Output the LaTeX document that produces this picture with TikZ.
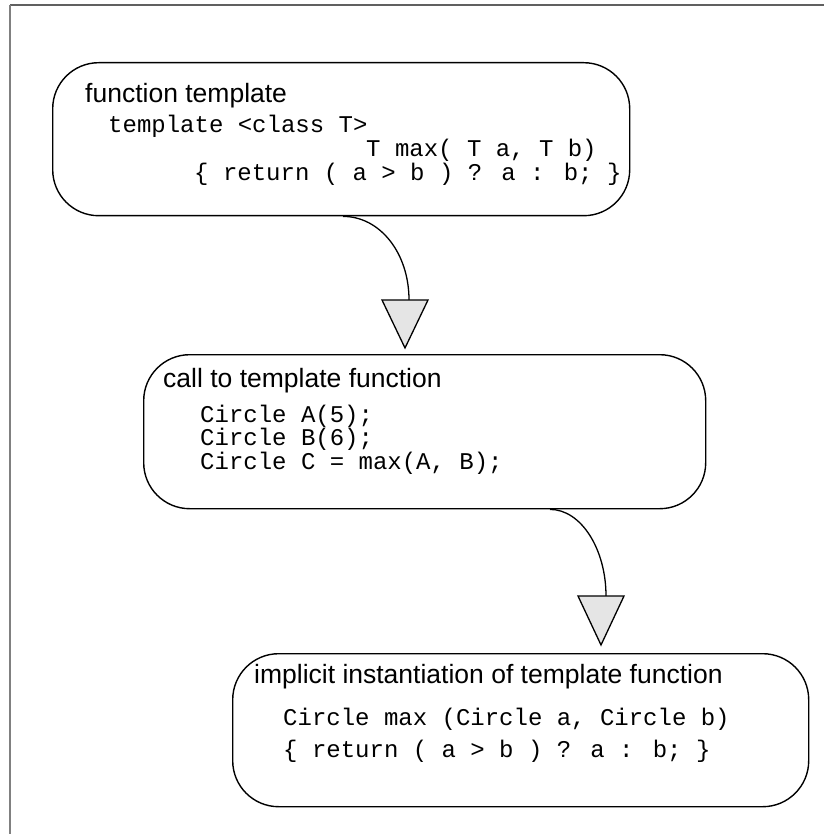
\documentclass[tikz,border=0pt]{standalone}
\usepackage{fontspec}
\setmainfont{Liberation Sans}
\newfontfamily\codefont{Liberation Mono}
\usetikzlibrary{calc}
\begin{document}
\begin{tikzpicture}[x=1pt,y=-1pt]
\tikzset{
  box/.style={draw, line width=1.4pt, rounded corners=46pt, inner sep=0pt, anchor=north west},
  caption/.style={inner sep=0pt, anchor=base west, font=\fontsize{26.5}{30}\selectfont},
  code/.style={inner sep=0pt, anchor=base west, font=\codefont\fontsize{24}{28}\selectfont},
  link/.style={line width=1.3pt},
  head/.style={draw, fill=gray!20, line width=1.3pt, line join=miter},
}
\useasboundingbox (0,0) rectangle (824,834);
% page frame
\draw[gray!75!black, line width=1.5pt] (10,5) -- (824,5);
\draw[gray, line width=2pt] (10,5) -- (10,834);

% function template
\node[box, minimum width=577pt, minimum height=153pt] (box1) at (52,62) {};
\node[caption] (lab1) at (85,103) {function template};
\node[code] (c1a) at (108,133) {template <class T>};
\node[code] (c1b) at (366,157) {T max( T a, T b)};
\node[code] (c1c) at (194,181) {\{ return ( a > b ) ? a : b; \}};

% call to template function
\node[box, minimum width=562pt, minimum height=154pt] (box2) at (143,354) {};
\node[caption] (lab2) at (163,387) {call to template function};
\node[code] (c2a) at (200,422) {Circle A(5);};
\node[code] (c2b) at (200,445.5) {Circle B(6);};
\node[code] (c2c) at (200,469) {Circle C = max(A, B);};

% implicit instantiation
\node[box, minimum width=576pt, minimum height=153pt] (box3) at (232,653) {};
\node[caption] (lab3) at (254,683) {implicit instantiation of template function};
\node[code] (c3a) at (283,725) {Circle max (Circle a, Circle b)};
\node[code] (c3b) at (283,757) {\{ return ( a > b ) ? a : b; \}};

% connector: function template -> call
\coordinate (s1) at ($(box1.south west)+(291,0)$);
\coordinate (tip1) at ($(box2.north west)+(262,-6)$);
\coordinate (e1) at ($(tip1)+(4,-48)$);
\draw[link] (s1) .. controls +(37,0) and +(0,-47) .. (e1);
\filldraw[head] (tip1) -- ++(-23,-48) -- ++(46,0) -- cycle;

% connector: call -> instantiation
\coordinate (s2) at ($(box2.south west)+(407,0)$);
\coordinate (tip2) at ($(box3.north west)+(369,-8)$);
\coordinate (e2) at ($(tip2)+(5,-49)$);
\draw[link] (s2) .. controls +(31,0) and +(0,-47) .. (e2);
\filldraw[head] (tip2) -- ++(-23,-49) -- ++(46,0) -- cycle;
\end{tikzpicture}
\end{document}
